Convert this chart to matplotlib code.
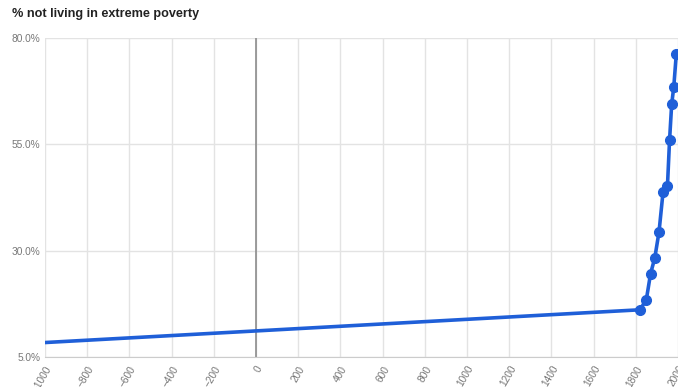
import matplotlib
matplotlib.use("Agg")
import matplotlib.pyplot as plt
from matplotlib.ticker import FuncFormatter

years = [-1000, 1820, 1850, 1870, 1890, 1910, 1929, 1950, 1960, 1970, 1980, 1992]
share = [8.4, 16.1, 18.5, 24.6, 28.3, 34.4, 43.7, 45.2, 56.0, 64.4, 68.5, 76.3]
title = "% not living in extreme poverty"
xticks = list(range(-1000, 2001, 200))
yticks = [5, 30, 55, 80]

plt.rcParams['font.family'] = ['Liberation Sans', 'DejaVu Sans']
fig = plt.figure(figsize=(6.78, 3.87), dpi=100)
W, H = 678, 387
ax = fig.add_axes([45 / W, (H - 357) / H, (678 - 45) / W, (357 - 38) / H])

ax.set_xlim(-1000, 2000)
ax.set_ylim(5, 80)
ax.set_xticks(xticks)
ax.set_yticks(yticks)
ax.grid(True, color='#e3e3e3', linewidth=1)
ax.set_axisbelow(True)
ax.axvline(0, color='#8c8c8c', linewidth=1.2, zorder=1)

blue = '#1f5fd8'
ax.plot(years, share, color=blue, linewidth=2.6, marker='o', markersize=7,
        markevery=list(range(1, len(years))), zorder=3, clip_on=True)

for s in ax.spines.values():
    s.set_visible(False)
ax.spines['bottom'].set_visible(True)
ax.spines['bottom'].set_color('#cccccc')
ax.tick_params(length=0, colors='#777777', labelsize=7.3)
ax.tick_params(axis='x', rotation=60, pad=5)
for lbl in ax.get_xticklabels():
    lbl.set_ha('right')
    lbl.set_rotation_mode('anchor')
ax.yaxis.set_major_formatter(FuncFormatter(lambda v, p: f"{v:.1f}%"))

fig.text(12 / W, 1 - 14 / H, title, fontsize=9.1, fontweight='bold', color='#222222', va='center', ha='left')

fig.savefig("out.png", dpi=100)
